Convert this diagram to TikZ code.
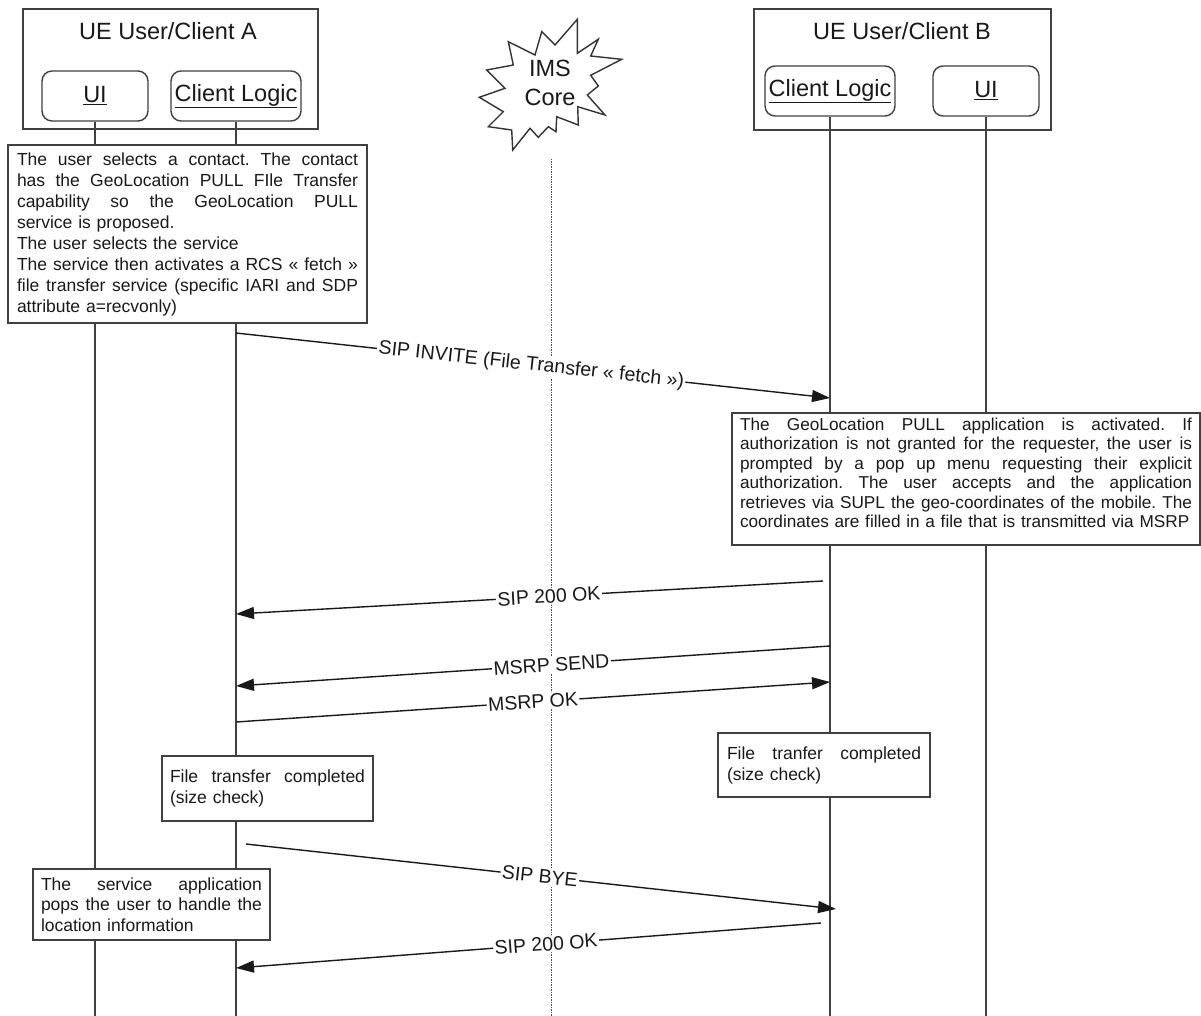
\documentclass[tikz,border=0pt]{standalone}
\usepackage{fontspec}
\setmainfont{Liberation Sans}
\usetikzlibrary{arrows.meta,calc}
\newcommand\jl[2]{\leavevmode\hbox to #1{\spaceskip=0pt\xspaceskip=0pt #2}}
\frenchspacing
\begin{document}
\frenchspacing
\begin{tikzpicture}[x=1pt,y=-1pt,
  frame/.style={draw=black!75, line width=1.4pt, inner sep=0pt},
  title/.style={font=\fontsize{23.5}{29}\selectfont, text=black!90},
  part/.style={draw=black!75, line width=1.4pt, rounded corners=10pt, minimum width=106pt, minimum height=50pt, inner sep=0pt, font=\fontsize{23.5}{28}\selectfont, text=black!90},
  life/.style={draw=black!75, line width=1.4pt},
  note/.style={draw=black!75, line width=1.4pt, fill=white, align=left, inner sep=0pt, font=\fontsize{17.5}{20.5}\selectfont\frenchspacing, text=black!90},
  msg/.style={draw=black!90, line width=1.4pt, -{Triangle[length=18pt,width=12pt]}},
  lbl/.style={sloped, fill=white, inner sep=1.5pt, font=\fontsize{19.5}{23}\selectfont, text=black!90},
]
\useasboundingbox[fill=white] (0,0) rectangle (1201,1016);

% --- Client A
\node[frame, minimum width=295pt, minimum height=120pt] (boxA) at (170.5,69) {};
\node[title] (tA) at (168,31) {UE User/Client A};
\node[part] (uiA) at (95,96) {\underline{UI}};
\node[part, minimum width=130pt] (clA) at (236,96) {\underline{Client Logic}};

% --- Client B
\node[frame, minimum width=297pt, minimum height=121pt] (boxB) at (902.5,69.5) {};
\node[title] (tB) at (902,31) {UE User/Client B};
\node[part, minimum width=130pt] (clB) at (830,91) {\underline{Client Logic}};
\node[part] (uiB) at (986,91) {\underline{UI}};

% --- IMS core
\draw[line width=1.4pt, draw=black!80, fill=white, line join=miter]
 (577.3,19.3) -- (577.3,53.3) -- (598.3,39.3) -- (590.7,56) -- (621.7,59.3)
 -- (590.7,75.3) -- (598.3,86) -- (587.3,95) -- (605,115) -- (577.7,106.7)
 -- (578.3,125) -- (556.7,116.7) -- (556,131.7) -- (548.3,126.7) -- (538.3,137.3)
 -- (530,128.3) -- (512.7,150) -- (511.7,130) -- (488.3,126.7) -- (503.3,111.7)
 -- (479.3,97.3) -- (505,88.3) -- (486.7,70) -- (513.3,65) -- (508.3,41.7)
 -- (535,55) -- (541.7,31.7) -- (555,45) -- cycle;
\node[title, align=center] (ims) at (550,82.5) {IMS\\Core};

% --- lifelines
\coordinate (uiAend) at (uiA.south |- 0,1016);
\coordinate (clAend) at (clA.south |- 0,1016);
\coordinate (clBend) at (clB.south |- 0,1016);
\coordinate (uiBend) at (uiB.south |- 0,1016);
\coordinate (imsTop) at (551,159);
\coordinate (imsEnd) at (551,1016);
\draw[life] (uiA.south) -- (uiAend);
\draw[life] (clA.south) -- (clAend);
\draw[life] (clB.south) -- (clBend);
\draw[life] (uiB.south) -- (uiBend);
\draw[draw=black!70, line width=1pt, dash pattern=on 1.5pt off 1pt] (imsTop) -- (imsEnd);

% --- notes
\node[note, minimum width=359pt, minimum height=178pt, text width=341pt, font=\fontsize{17.5}{21}\selectfont] (noteA) at (187.5,234) {%
\jl{341pt}{The user selects a contact. The contact}\\
\jl{341pt}{has the GeoLocation PULL FIle Transfer}\\
\jl{341pt}{capability so the GeoLocation PULL}\\
service is proposed.\\
The user selects the service\\
\jl{341pt}{The service then activates a RCS « fetch »}\\
\jl{341pt}{file transfer service (specific IARI and SDP}\\
attribute a=recvonly)};

\node[note, minimum width=468pt, minimum height=132pt, text width=452pt, font=\fontsize{17.2}{19.5}\selectfont] (noteB) at (966,479) {%
\jl{452pt}{The GeoLocation PULL application is activated. If}\\
\jl{452pt}{authorization is not granted for the requester, the user is}\\
\jl{452pt}{prompted by a pop up menu requesting their explicit}\\
\jl{452pt}{authorization. The user accepts and the application}\\
\jl{452pt}{retrieves via SUPL the geo-coordinates of the mobile. The}\\
\leavevmode\hbox{coordinates are filled in a file that is transmitted via MSRP}\rule[-12pt]{0pt}{12pt}};

\node[note, minimum width=211pt, minimum height=65pt, text width=195pt, font=\fontsize{17.5}{21}\selectfont] (ftA) at (267.5,788.5) {%
\jl{195pt}{File transfer completed}\\
(size check)};

\node[note, minimum width=212pt, minimum height=64pt, text width=194pt, font=\fontsize{17.5}{21}\selectfont] (ftB) at (824,765) {%
\jl{194pt}{File tranfer completed}\\
(size check)};

\node[note, minimum width=237pt, minimum height=71pt, text width=221pt] (svc) at (151.5,904.5) {%
\jl{221pt}{The service application}\\
\jl{221pt}{pops the user to handle the}\\
location information};

% --- messages
\coordinate (invS) at (clA |- 0,333);
\coordinate (invE) at (clB |- 0,398);
\draw[msg] (invS) -- node[lbl, pos=0.497] {SIP INVITE (File Transfer « fetch »)} (invE);

\coordinate (okaS) at (823,581);
\coordinate (okaE) at (clA |- 0,614);
\draw[msg] (okaS) -- node[lbl, pos=0.467] {SIP 200 OK} (okaE);

\coordinate (sendS) at (clB |- 0,646);
\coordinate (sendE) at (clA |- 0,686);
\draw[msg] (sendS) -- node[lbl, pos=0.469] {MSRP SEND} (sendE);

\coordinate (mokS) at (clA |- 0,722);
\coordinate (mokE) at (clB |- 0,682);
\draw[msg] (mokS) -- node[lbl, pos=0.5] {MSRP OK} (mokE);

\coordinate (byeS) at (246,844);
\coordinate (byeE) at (836,909);
\draw[msg] (byeS) -- node[lbl, pos=0.498] {SIP BYE} (byeE);

\coordinate (okbS) at (821,923);
\coordinate (okbE) at (clA |- 0,968);
\draw[msg] (okbS) -- node[lbl, pos=0.47] {SIP 200 OK} (okbE);
\end{tikzpicture}
\end{document}
